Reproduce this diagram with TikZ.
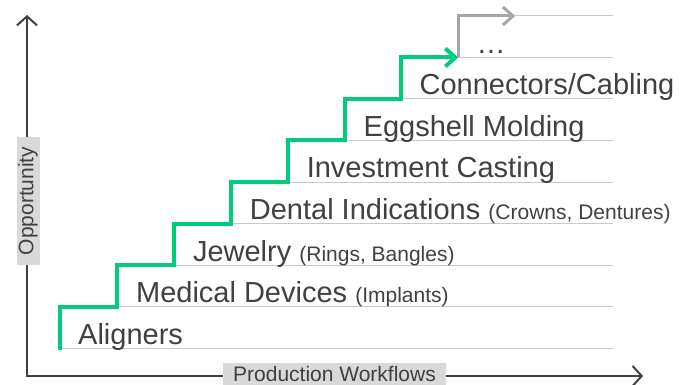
\documentclass[tikz,border=0pt]{standalone}
\usepackage{fontspec}
\setmainfont{Liberation Sans}
\usetikzlibrary{arrows.meta}

\definecolor{climbgreen}{RGB}{0,204,122}
\definecolor{inkgray}{RGB}{64,64,64}
\definecolor{rulegray}{RGB}{200,200,200}
\definecolor{nextgray}{RGB}{166,166,166}
\definecolor{tabfill}{RGB}{217,217,217}

\newcommand{\stepfont}{\fontsize{29}{29}\selectfont}
\newcommand{\notefont}{\fontsize{21}{21}\selectfont}

\begin{document}
\begin{tikzpicture}[x=1pt,y=-1pt,
    axis/.style={draw=inkgray,line width=2pt,
      {Straight Barb[length=9pt,width=20pt]}-{Straight Barb[length=9pt,width=20pt]}},
    axistab/.style={fill=tabfill,text=inkgray,font=\notefont,inner xsep=10pt,
      inner ysep=0pt,minimum height=23pt},
    rule/.style={draw=rulegray,line width=1pt},
    climb/.style={draw=climbgreen,line width=4pt,
      -{Straight Barb[length=10pt,width=18pt]}},
    nextstep/.style={draw=nextgray,line width=3pt,
      -{Straight Barb[length=10pt,width=18pt]}},
    steplabel/.style={anchor=base west,inner sep=0pt,text=inkgray,font=\stepfont}]
  \useasboundingbox (0,0) rectangle (688,385);

  % axes
  \coordinate (origin) at (27,376);
  \coordinate (ytip) at (27,15);
  \coordinate (xtip) at (643,376);
  \draw[axis] (ytip) -- (origin) -- (xtip);
  \node[axistab,rotate=90] (opp) at (28,201) {Opportunity};
  \node[axistab] (prod) at (334.5,374) {Production Workflows};

  % stair corners and rules
  \foreach \i in {0,...,8} {
    \coordinate (c\i) at ({60+56.9*\i},{348-41.5*\i});
    \coordinate (e\i) at (613,{348-41.5*\i});
  }
  \foreach \i in {0,...,8}
    \draw[rule] (c\i) -- (e\i);

  \coordinate (base) at ([yshift=-2pt]c0);
  \draw[climb] (base) \foreach \i [count=\j] in {0,...,6} { -- (c\i |- c\j) -- (c\j) };
  \draw[nextstep] (c7) -- (c7 |- c8) -- (c8);

  % step labels
  \node[steplabel] (aligners) at ([xshift=18pt,yshift=4pt]c0) {Aligners};
  \node[steplabel] (medical) at ([xshift=19pt,yshift=4pt]c1) {Medical Devices {\notefont(Implants)}};
  \node[steplabel] (jewelry) at ([xshift=19pt,yshift=4pt]c2) {Jewelry {\notefont(Rings, Bangles)}};
  \node[steplabel] (dental) at ([xshift=19pt,yshift=4pt]c3) {Dental Indications {\notefont(Crowns, Dentures)}};
  \node[steplabel] (casting) at ([xshift=19pt,yshift=4pt]c4) {Investment Casting};
  \node[steplabel] (eggshell) at ([xshift=19pt,yshift=4pt]c5) {Eggshell Molding};
  \node[steplabel] (cabling) at ([xshift=18pt,yshift=4pt]c6) {Connectors/Cabling};
  \node[steplabel] (more) at ([xshift=18pt,yshift=4pt]c7) {…};
\end{tikzpicture}
\end{document}
